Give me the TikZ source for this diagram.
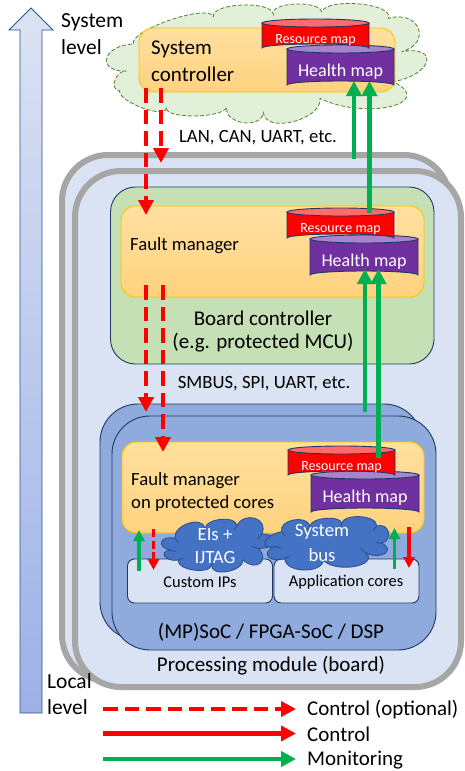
\documentclass[tikz,border=0pt]{standalone}
\usepackage{fontspec}
\setmainfont{Carlito}
\usetikzlibrary{arrows.meta}
\definecolor{navy}{HTML}{1F3864}
\definecolor{bluepale}{HTML}{DAE3F3}
\definecolor{bluemid}{HTML}{8FAADC}
\definecolor{arrowbot}{HTML}{9DB1E6}
\definecolor{greyedge}{HTML}{A6A6A6}
\definecolor{boardgreen}{HTML}{C5E0B4}
\definecolor{cloudgreen}{HTML}{E2F0D9}
\definecolor{clouddash}{HTML}{548235}
\definecolor{orangetop}{HTML}{FFE0A0}
\definecolor{orangebot}{HTML}{FFD27E}
\definecolor{gold}{HTML}{FFC000}
\definecolor{cloudblue}{HTML}{4472C4}
\definecolor{cloudedge}{HTML}{2F528F}
\definecolor{monitor}{HTML}{00B050}
\definecolor{resred}{HTML}{FF0000}
\definecolor{restop}{HTML}{FF6B6B}
\definecolor{healthbody}{HTML}{7030A0}
\definecolor{healthtop}{HTML}{A884CC}
\tikzset{
  plate/.style={draw=greyedge,line width=6pt,fill=bluepale,rounded corners=46pt},
  boardbox/.style={draw=navy,line width=.9pt,fill=boardgreen,rounded corners=25pt},
  socbox/.style={draw=navy,line width=.9pt,fill=bluemid,rounded corners=38pt},
  orangebox/.style={draw=gold,line width=.9pt,top color=orangetop,bottom color=orangebot,rounded corners=14pt},
  ipbox/.style={draw=navy,line width=.9pt,fill=bluepale,rounded corners=7pt},
  txt/.style={inner sep=0pt,text=black,font=\fontsize{18.7}{18.7}\selectfont},
  leveltxt/.style={inner sep=0pt,text=black,font=\fontsize{21.5}{21.5}\selectfont},
  bigtxt/.style={inner sep=0pt,text=black,font=\fontsize{21}{21}\selectfont},
  midtxt/.style={inner sep=0pt,text=black,font=\fontsize{21}{21}\selectfont},
  smalltxt/.style={inner sep=0pt,text=black,font=\fontsize{16.4}{16.4}\selectfont},
  legendtxt/.style={inner sep=0pt,text=black,font=\fontsize{21}{21}\selectfont},
  whitetxt/.style={inner sep=0pt,text=white,font=\fontsize{18.7}{18.7}\selectfont},
  restxt/.style={inner sep=0pt,text=white,font=\fontsize{14}{14}\selectfont},
  healthtxt/.style={inner sep=0pt,text=white,font=\fontsize{18}{18}\selectfont},
  bigarrow/.style={line width=4.6pt,-{Triangle[length=15pt,width=15pt]}},
  smallarrow/.style={line width=3.2pt,-{Triangle[length=11pt,width=11pt]}},
  thindash/.style={dash pattern=on 8pt off 3.5pt},
  thickdash/.style={dash pattern=on 14.5pt off 7pt},
  greencloud/.style={draw=clouddash,line width=.8pt,dash pattern=on 4pt off 2pt,fill=cloudgreen},
  bluecloud/.style={draw=cloudedge,line width=.9pt,fill=cloudblue},
  cloudfold/.style={draw=cloudedge,line width=.9pt},
}
% a cloud bump: start, peak, end
\def\bump#1,#2;#3,#4;#5,#6;{.. controls ({#1+1.33*(#3-(#1+#5)/2)},{#2+1.33*(#4-(#2+#6)/2)}) and ({#5+1.33*(#3-(#1+#5)/2)},{#6+1.33*(#4-(#2+#6)/2)}) .. (#5,#6)}
\newcommand{\boxat}[6]{\node[#1,minimum width={(#5-#3)*1pt},minimum height={(#6-#4)*1pt},inner sep=0pt] (#2) at ({(#3+#5)/2},{(#4+#6)/2}) {};}
% cylinder: name, x1, ytop, x2, ybottom, body, top, text style, text
\newcommand{\cylmap}[9]{%
  \path[fill=#6,draw=navy,line width=.9pt] (#2,#3+4) -- (#2,#5-4) arc[start angle=180,end angle=360,x radius={(#4-#2)/2},y radius=4] -- (#4,#3+4) -- cycle;
  \path[fill=#7,draw=navy,line width=.9pt] ({(#2+#4)/2},#3+4) ellipse[x radius={(#4-#2)/2},y radius=4];
  \node[#8] (#1) at ({(#2+#4)/2},{(#3+#5)/2+4.5}) {#9};}
\begin{document}
\begin{tikzpicture}[x=1pt,y=-1pt]
\useasboundingbox (0,0) rectangle (464,771);
\fill[white] (0,0) rectangle (464,771);

% level arrow
\path[draw=cloudedge,line width=.9pt,top color=bluepale,bottom color=arrowbot]
  (20,713) -- (20,30) -- (9,30) -- (31,8) -- (53,30) -- (42,30) -- (42,713) -- cycle;
\node[leveltxt,anchor=west] (syslevel1) at (61,22) {System};
\node[leveltxt,anchor=west] (syslevel2) at (61,47) {level};

% system cloud
\begin{scope}[scale=1/3]
\path[greencloud] (380,213) \bump 380,213;320,175;400,132;
  \bump 400,132;510,60;640,50;
  \bump 640,50;725,15;820,42;
  \bump 820,42;885,12;965,35;
  \bump 965,35;1080,12;1165,55;
  \bump 1165,55;1255,85;1205,155;
  \bump 1205,155;1280,185;1180,245;
  \bump 1180,245;1170,320;960,295;
  \bump 960,295;880,365;790,338;
  \bump 790,338;730,368;680,322;
  \bump 680,322;580,348;500,322;
  \bump 500,322;430,325;358,272;
  \bump 358,272;345,240;380,213; -- cycle;
\end{scope}
\boxat{orangebox}{sysctl}{139}{28}{395}{92}
\node[bigtxt,anchor=west] (sysctl1) at (151,49) {System};
\node[bigtxt,anchor=west] (sysctl2) at (151,74) {controller};
\cylmap{syshealth}{287}{45}{394}{89}{healthbody}{healthtop}{healthtxt}{Health map}
\cylmap{sysres}{262}{19}{369}{52}{resred}{restop}{restxt}{Resource map}

% processing module
\boxat{plate}{plateback}{62}{155}{450}{681}
\boxat{plate}{platefront}{75}{171}{461}{687}
\node[midtxt] (pmlabel) at (271,666) {Processing module (board)};
\node[leveltxt,anchor=west] (loclevel1) at (47,681) {Local};
\node[leveltxt,anchor=west] (loclevel2) at (47,707) {level};

% board controller
\boxat{boardbox}{board}{110.5}{187}{434}{364}
\boxat{orangebox}{boardfm}{121}{206}{424}{297}
\node[txt,anchor=west] (boardfmt) at (130,246) {Fault manager};
\cylmap{boardhealth}{310}{235}{418}{279}{healthbody}{healthtop}{healthtxt}{Health map}
\cylmap{boardres}{287}{208}{394}{242}{resred}{restop}{restxt}{Resource map}
\node[midtxt] (boardt1) at (263,318) {Board controller};
\node[midtxt] (boardt2) at (263,343) {(e.g. protected MCU)};

\node[txt] (lanlabel) at (258,138) {LAN, CAN, UART, etc.};
\node[txt] (smblabel) at (264,384) {SMBUS, SPI, UART, etc.};

% SoC
\boxat{socbox}{socback}{100}{404}{422}{640}
\boxat{socbox}{socfront}{112}{416}{436}{650}
\boxat{orangebox}{socfm}{122}{442}{424}{533}
\node[txt,anchor=west] (socfm1) at (131,481) {Fault manager};
\node[txt,anchor=west] (socfm2) at (131,504) {on protected cores};
\cylmap{sochealth}{311}{471}{419}{516}{healthbody}{healthtop}{healthtxt}{Health map}
\cylmap{socres}{288}{446}{395}{479}{resred}{restop}{restxt}{Resource map}
\node[midtxt] (soclabel) at (271,632) {(MP)SoC / FPGA-SoC / DSP};

\boxat{ipbox}{custom}{127.5}{559}{272.5}{603}
\boxat{ipbox}{appcores}{274}{559}{419}{603}
\node[smalltxt] (customt) at (200,582) {Custom IPs};
\node[smalltxt] (appt) at (346,582) {Application cores};

% blue clouds
\begin{scope}[shift={(90,400)},scale=1/3]
\path[bluecloud] (255,415) \bump 255,415;295,370;345,385;
  \bump 345,385;395,358;440,378;
  \bump 440,378;495,355;515,402;
  \bump 515,402;555,425;505,445;
  \bump 505,445;510,490;460,480;
  \bump 460,480;410,515;365,495;
  \bump 365,495;310,510;265,480;
  \bump 265,480;225,470;240,450;
  \bump 240,450;215,425;255,415; -- cycle;
\path[cloudfold] (255,415) -- (265,428) (345,385) -- (338,397) (440,378) -- (432,390) (515,402) -- (503,418) (505,445) -- (485,440) (365,495) -- (373,482) (265,480) -- (280,474) (240,450) -- (258,455);
\path[bluecloud] (575,395) \bump 575,395;610,360;660,378;
  \bump 660,378;710,355;755,372;
  \bump 755,372;810,350;860,378;
  \bump 860,378;895,395;875,430;
  \bump 875,430;885,460;830,460;
  \bump 830,460;790,500;700,480;
  \bump 700,480;640,510;585,475;
  \bump 585,475;535,470;555,440;
  \bump 555,440;525,425;575,395; -- cycle;
\path[cloudfold] (575,395) -- (586,408) (660,378) -- (652,390) (755,372) -- (748,385) (860,378) -- (850,392) (875,430) -- (858,428) (830,460) -- (812,445) (700,480) -- (708,466) (585,475) -- (600,468) (555,440) -- (575,445);
\end{scope}
\node[whitetxt] (eis1) at (215,535) {EIs +};
\node[whitetxt] (eis2) at (215,557) {IJTAG};
\node[whitetxt] (bus1) at (322,532) {System};
\node[whitetxt] (bus2) at (322,555) {bus};

% connector ends
\coordinate (a1s) at (146,88);  \coordinate (a1e) at (146,215);
\coordinate (a2s) at (161,88);  \coordinate (a2e) at (161,163);
\coordinate (a3s) at (146,285); \coordinate (a3e) at (146,412);
\coordinate (a4s) at (163,285); \coordinate (a4e) at (163,452);
\coordinate (g1s) at (354,159); \coordinate (g1e) at (354,81);
\coordinate (g2s) at (369.5,213); \coordinate (g2e) at (369.5,81);
\coordinate (g3s) at (365,412); \coordinate (g3e) at (365,269);
\coordinate (g4s) at (378.5,458); \coordinate (g4e) at (378.5,269);
\coordinate (s1s) at (139,571); \coordinate (s1e) at (139,530);
\coordinate (s2s) at (153.5,529); \coordinate (s2e) at (153.5,570);
\coordinate (s3s) at (394.5,569); \coordinate (s3e) at (394.5,528);
\coordinate (s4s) at (409,527); \coordinate (s4e) at (409,568);

\draw[bigarrow,thickdash,red] (a1s) -- (a1e);
\draw[bigarrow,thickdash,red] (a2s) -- (a2e);
\draw[bigarrow,thickdash,red] (a3s) -- (a3e);
\draw[bigarrow,thickdash,red] (a4s) -- (a4e);
\draw[bigarrow,monitor] (g1s) -- (g1e);
\draw[bigarrow,monitor] (g2s) -- (g2e);
\draw[bigarrow,monitor] (g3s) -- (g3e);
\draw[bigarrow,monitor] (g4s) -- (g4e);
\draw[smallarrow,monitor] (s1s) -- (s1e);
\draw[smallarrow,thindash,red] (s2s) -- (s2e);
\draw[smallarrow,monitor] (s3s) -- (s3e);
\draw[smallarrow,red] (s4s) -- (s4e);

% legend
\node[legendtxt,anchor=west] (leg1) at (307,710) {Control (optional)};
\node[legendtxt,anchor=west] (leg2) at (307,734) {Control};
\node[legendtxt,anchor=west] (leg3) at (307,760) {Monitoring};
\coordinate (l1s) at (103,709); \coordinate (l2s) at (103,733.5); \coordinate (l3s) at (103,759);
\coordinate (l1e) at (296,709); \coordinate (l2e) at (296,733.5); \coordinate (l3e) at (296,759);
\draw[bigarrow,thickdash,red] (l1s) -- (l1e);
\draw[bigarrow,red] (l2s) -- (l2e);
\draw[bigarrow,monitor] (l3s) -- (l3e);
\end{tikzpicture}
\end{document}
